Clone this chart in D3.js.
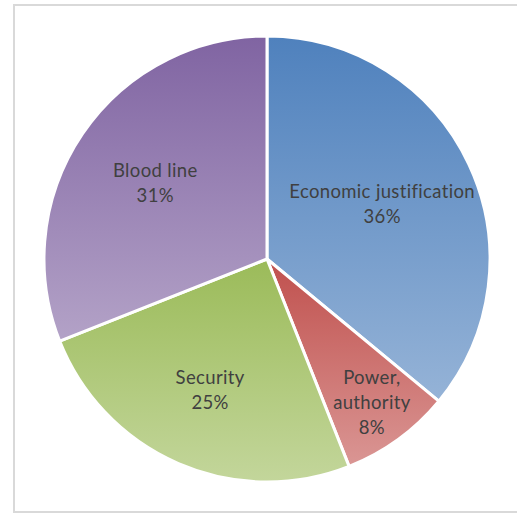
<!DOCTYPE html>
<html lang="en">
<head>
    <meta charset="UTF-8">
    <title>Pie</title>
    <script src="https://cdnjs.cloudflare.com/ajax/libs/d3/7.8.5/d3.min.js"></script>
    <style>
        body { margin: 0; background: #fff; }
    </style>
</head>
<body>
    <div id="chart"></div>
    <script>
        // data
        var categories = ["Economic justification", "Power, authority", "Security", "Blood line"];
        var labelLines = [["Economic justification"], ["Power,", "authority"], ["Security"], ["Blood line"]];
        var values = [36, 8, 25, 31];
        var topColors = ["#4F81BD", "#C0504D", "#9BBB59", "#8064A2"];
        var bottomColors = ["#95B3D7", "#DA9694", "#C3D69B", "#B3A2C7"];

        var w = 517, h = 514;
        var cx = 267, cy = 259, r = 223;

        var svg = d3.select("#chart").append("svg")
            .attr("width", w)
            .attr("height", h);

        // chart frame
        svg.append("rect")
            .attr("x", 14).attr("y", 5)
            .attr("width", 520).attr("height", 507)
            .attr("fill", "none")
            .attr("stroke", "#D9D9D9")
            .attr("stroke-width", 2);

        var defs = svg.append("defs");
        categories.forEach(function(c, i) {
            var g = defs.append("linearGradient")
                .attr("id", "grad" + i)
                .attr("x1", 0).attr("y1", 0).attr("x2", 0).attr("y2", 1);
            g.append("stop").attr("offset", "0%").attr("stop-color", topColors[i]);
            g.append("stop").attr("offset", "100%").attr("stop-color", bottomColors[i]);
        });

        var pie = d3.pie().sort(null).value(function(d) { return d; });
        var arcs = pie(values);

        var arc = d3.arc().innerRadius(0).outerRadius(r);

        var g = svg.append("g").attr("transform", "translate(" + cx + "," + cy + ")");

        g.selectAll("path")
            .data(arcs)
            .enter()
            .append("path")
            .attr("d", arc)
            .attr("fill", function(d, i) { return "url(#grad" + i + ")"; })
            .attr("stroke", "#fff")
            .attr("stroke-width", 3)
            .attr("stroke-linejoin", "round");

        // labels near the sector centroid, small slices pushed out
        var total = d3.sum(values);
        function labelRadius(d) {
            var t = d.endAngle - d.startAngle;
            if (d.value / total < 0.1) return r * 0.8;
            return 1.07 * 4 * r * Math.sin(t / 2) / (3 * t);
        }

        g.selectAll("text")
            .data(arcs)
            .enter()
            .append("text")
            .attr("font-family", "Lato, sans-serif")
            .attr("font-size", "18.5px")
            .attr("letter-spacing", "0.35px")
            .attr("fill", "#404040")
            .attr("text-anchor", "middle")
            .each(function(d, i) {
                var lr = labelRadius(d);
                var pos = d3.arc().innerRadius(lr).outerRadius(lr).centroid(d);
                var lines = labelLines[i].concat([d.value + "%"]);
                var lh = 25;
                var y0 = pos[1] - (lines.length - 1) * lh / 2 + 6;
                var t = d3.select(this);
                lines.forEach(function(l, k) {
                    t.append("tspan")
                        .attr("x", pos[0])
                        .attr("y", y0 + k * lh)
                        .text(l);
                });
            });
    </script>
</body>
</html>
